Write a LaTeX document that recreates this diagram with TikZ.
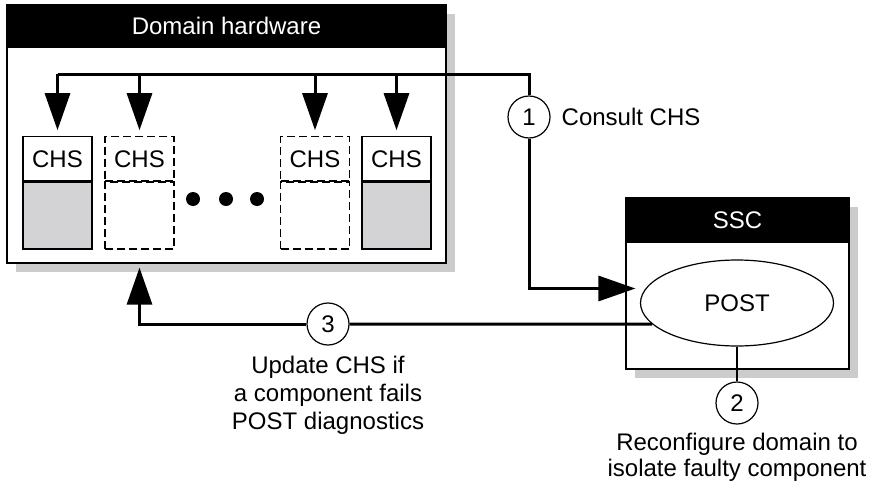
\documentclass[tikz,border=0pt]{standalone}
\usepackage{fontspec}
\setmainfont{Liberation Sans}
\usetikzlibrary{arrows.meta}
\usetikzlibrary{positioning}
\usetikzlibrary{fit}
\usetikzlibrary{shadows}
\usetikzlibrary{shapes.geometric}
\definecolor{chsgray}{RGB}{211,211,213}
\definecolor{shadowgray}{RGB}{204,204,204}

\tikzset{
  panel/.style={draw, fill=white, line width=0.6pt, inner sep=0pt,
    drop shadow={shadow xshift=4.5pt, shadow yshift=-4.5pt, fill=shadowgray, opacity=1}},
  hdr/.style={draw, fill=black, line width=0.6pt, inner sep=0pt},
  hdrtext/.style={text=white, inner sep=0pt},
  chstop/.style={draw, fill=white, line width=0.6pt, minimum width=34.5pt, minimum height=22pt, inner sep=0pt},
  chsbot/.style={draw, line width=0.6pt, minimum width=34.5pt, minimum height=33.5pt, inner sep=0pt},
  missing/.style={dash pattern=on 4pt off 2pt},
  conn/.style={line width=1.5pt},
  stepno/.style={circle, draw, fill=white, line width=0.6pt, minimum size=21pt, inner sep=0pt},
  dotnode/.style={circle, fill=black, minimum size=7pt, inner sep=0pt},
  postnode/.style={ellipse, draw, fill=white, line width=0.6pt, minimum width=96.5pt, minimum height=43pt, inner sep=0pt}
}

\begin{document}
\begin{tikzpicture}[x=0.5pt,y=-0.5pt,>={Triangle[length=18.5pt,width=12.5pt]},
  font=\fontsize{12}{14}\selectfont]
\useasboundingbox (0,0) rectangle (871,482);

% domain hardware
\node[panel, fit={(7,5) (446,263)}] (dom) {};
\node[hdr, fit={(7,5) (446,47)}] (domhdr) {};
\node[hdrtext] (domtitle) at (domhdr.center) {Domain hardware};

\foreach \cx/\nm/\sty/\col in {57.5/a/solid/chsgray, 139.5/b/missing/white, 315/c/missing/white, 396.5/d/solid/chsgray}
{
  \node[chsbot, \sty, fill=\col] (\nm bot) at (\cx,215.5) {};
  \node[chstop, \sty, above=0pt of \nm bot] (\nm top) {CHS};
}
% solid divider between the two halves
\foreach \nm in {a,b,c,d}
  \draw[solid, line width=0.8pt] (\nm bot.north west) -- (\nm bot.north east);
\foreach \i/\dx in {1/193,2/226,3/257}
  \node[dotnode] (dot\i) at (\dx,199) {};

% SSC
\node[panel, fit={(626,198) (849,369)}] (ssc) {};
\node[hdr, fit={(626,198) (849,242)}] (sschdr) {};
\node[hdrtext] (ssctitle) at (sschdr.center) {SSC};
\node[postnode] (post) at (737,303) {POST};

% steps
\coordinate (busy) at (0,74);
\node[stepno] (n1) at (529,117) {1};
\node[right=2pt of n1] (consult) {Consult CHS};
\node[stepno] (n2) at (737,403) {2};
\node[stepno] (n3) at (328,324) {3};
\node[below=5pt of n3, align=center, inner sep=0pt] (upd) {Update CHS if\\a component fails\\POST diagnostics};
\node[below=4pt of n2, align=center, inner sep=0pt, font=\fontsize{12}{13}\selectfont] (reconf) {Reconfigure domain to\\isolate faulty component};

% connectors
\draw[conn] (atop.north |- busy) -| (n1.north);
\foreach \nm in {a,b,c,d}
  \draw[conn,->,shorten >=3pt] (\nm top.north |- busy) -- (\nm top.north);
\draw[conn,->,shorten >=5pt] (n1.south) |- (post.171);
\draw[line width=0.6pt] (post.south) -- (n2.north);
\draw[conn] (post.194) -- (n3.east);
\draw[conn,->,shorten >=2pt] (n3.west) -| (dom.south -| bbot.south);
\end{tikzpicture}
\end{document}
